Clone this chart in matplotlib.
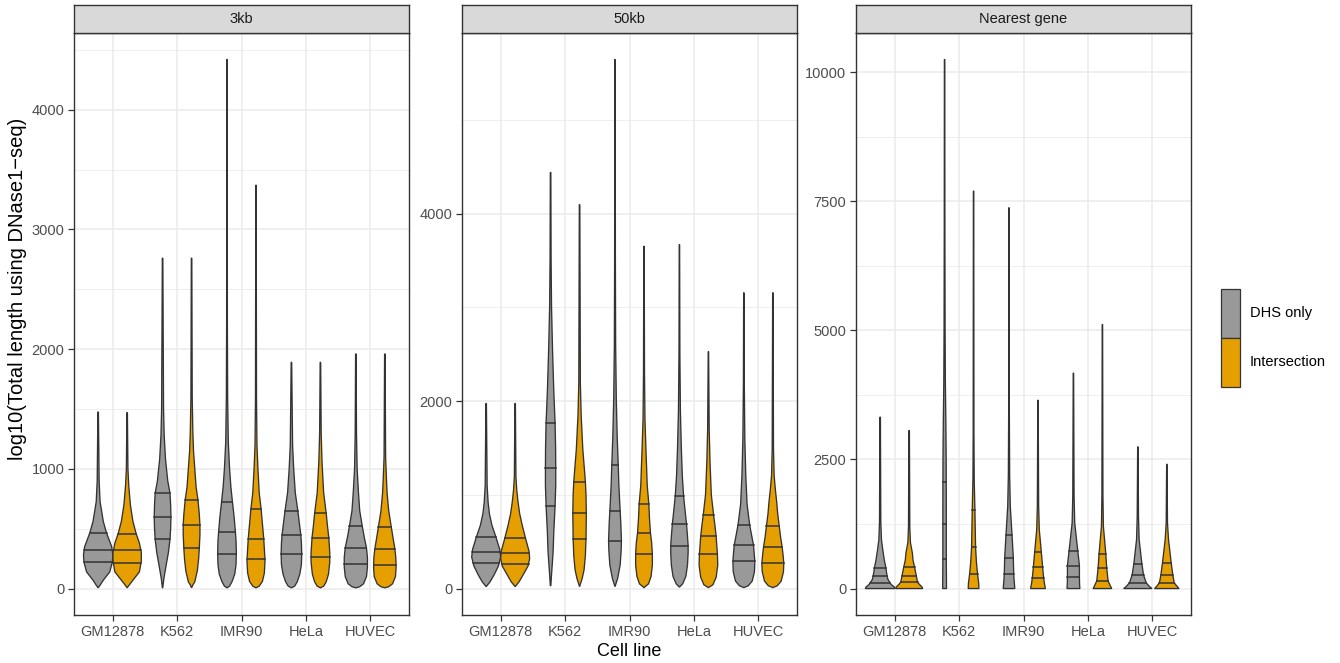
import matplotlib

matplotlib.use("Agg")
import matplotlib.pyplot as plt
import numpy as np
from matplotlib.patches import Rectangle

plt.rcParams["font.family"] = ["Liberation Sans", "DejaVu Sans"]

cell_lines = ["GM12878", "K562", "IMR90", "HeLa", "HUVEC"]
groups = ["DHS only", "Intersection"]
facet_names = ["3kb", "50kb", "Nearest gene"]

ticks_3kb = [0, 1000, 2000, 3000, 4000]
ticks_50kb = [0, 2000, 4000]
ticks_nearest = [0, 2500, 5000, 7500, 10000]

# quartiles (25%, 50%, 75%) per cell line
q_3kb_dhs = [(219, 325, 464), (411, 594, 797), (289, 475, 722), (289, 450, 647), (203, 339, 519)]
q_3kb_int = [(211, 319, 458), (336, 528, 736), (244, 417, 661), (264, 425, 628), (197, 333, 514)]
q_50kb_dhs = [(277, 390, 553), (886, 1287, 1766), (507, 826, 1319), (457, 688, 986), (294, 461, 681)]
q_50kb_int = [(266, 380, 539), (532, 805, 1142), (365, 596, 904), (365, 557, 787), (270, 440, 663)]
q_near_dhs = [(110, 238, 393), (575, 1245, 2067), (291, 601, 1033), (219, 446, 736), (110, 265, 484)]
q_near_int = [(123, 252, 410), (277, 800, 1512), (207, 413, 703), (149, 393, 678), (110, 258, 504)]

# density outline: (value, half width in category units)
prof_3kb_dhs = [
    [(6, 0), (28, 0.03), (70, 0.08), (139, 0.18), (220, 0.22), (280, 0.228), (350, 0.21), (464, 0.13),
     (560, 0.08), (725, 0.03), (900, 0.015), (1475, 0.004)],
    [(6, 0.003), (40, 0.01), (83, 0.02), (194, 0.055), (300, 0.09), (411, 0.115), (500, 0.125), (594, 0.13),
     (700, 0.125), (797, 0.115), (900, 0.08), (1083, 0.045), (1278, 0.025), (1500, 0.015), (2760, 0.004)],
    [(6, 0), (20, 0.04), (60, 0.08), (120, 0.12), (200, 0.14), (300, 0.145), (400, 0.14), (475, 0.13),
     (600, 0.11), (722, 0.085), (850, 0.06), (1000, 0.04), (1224, 0.02), (1600, 0.01), (2200, 0.006), (4420, 0.003)],
    [(6, 0), (20, 0.05), (56, 0.09), (120, 0.13), (200, 0.155), (290, 0.16), (380, 0.155), (450, 0.145),
     (560, 0.12), (647, 0.1), (800, 0.06), (1000, 0.035), (1200, 0.018), (1890, 0.004)],
    [(6, 0), (15, 0.06), (40, 0.12), (100, 0.165), (180, 0.18), (260, 0.18), (339, 0.165), (430, 0.13),
     (519, 0.1), (650, 0.06), (806, 0.04), (1000, 0.02), (1300, 0.01), (1960, 0.004)],
]
prof_3kb_int = [
    [(6, 0), (28, 0.03), (70, 0.09), (139, 0.19), (230, 0.22), (300, 0.22), (380, 0.19), (458, 0.14),
     (560, 0.09), (700, 0.05), (860, 0.025), (1000, 0.012), (1470, 0.004)],
    [(6, 0), (30, 0.02), (56, 0.05), (150, 0.09), (250, 0.11), (336, 0.12), (450, 0.13), (528, 0.13),
     (620, 0.12), (736, 0.1), (850, 0.07), (1000, 0.05), (1150, 0.03), (1306, 0.02), (1600, 0.01), (2760, 0.004)],
    [(6, 0), (20, 0.05), (60, 0.1), (130, 0.13), (230, 0.14), (330, 0.13), (417, 0.12), (540, 0.1),
     (661, 0.08), (800, 0.05), (1000, 0.03), (1200, 0.015), (1600, 0.008), (3370, 0.003)],
    [(6, 0), (20, 0.05), (56, 0.09), (120, 0.125), (220, 0.145), (300, 0.145), (425, 0.13), (520, 0.11),
     (628, 0.09), (800, 0.05), (1056, 0.025), (1300, 0.012), (1890, 0.004)],
    [(6, 0), (15, 0.06), (40, 0.12), (100, 0.165), (180, 0.175), (260, 0.17), (333, 0.155), (430, 0.125),
     (514, 0.1), (650, 0.06), (800, 0.035), (917, 0.025), (1100, 0.012), (1960, 0.004)],
]
prof_50kb_dhs = [
    [(20, 0), (71, 0.06), (142, 0.12), (240, 0.19), (337, 0.225), (420, 0.21), (553, 0.15), (674, 0.09),
     (800, 0.05), (922, 0.03), (1100, 0.015), (1975, 0.004)],
    [(30, 0.004), (100, 0.01), (248, 0.025), (400, 0.04), (606, 0.05), (886, 0.07), (1100, 0.08), (1287, 0.08),
     (1500, 0.078), (1766, 0.07), (2100, 0.05), (2553, 0.03), (3000, 0.015), (3500, 0.008), (4440, 0.004)],
    [(20, 0), (106, 0.04), (250, 0.08), (400, 0.095), (507, 0.1), (700, 0.09), (826, 0.08), (1100, 0.06),
     (1319, 0.05), (1600, 0.035), (2021, 0.02), (2600, 0.01), (3500, 0.006), (5645, 0.003)],
    [(15, 0), (50, 0.05), (130, 0.1), (250, 0.125), (380, 0.135), (457, 0.135), (560, 0.125), (688, 0.11),
     (850, 0.085), (986, 0.065), (1200, 0.045), (1489, 0.03), (1900, 0.015), (2500, 0.007), (3670, 0.003)],
    [(10, 0), (30, 0.07), (80, 0.13), (180, 0.165), (294, 0.17), (380, 0.16), (461, 0.15), (570, 0.12),
     (681, 0.09), (900, 0.05), (1206, 0.03), (1600, 0.015), (2200, 0.007), (3156, 0.003)],
]
prof_50kb_int = [
    [(20, 0), (71, 0.06), (142, 0.12), (240, 0.2), (320, 0.225), (400, 0.215), (539, 0.16), (674, 0.11),
     (800, 0.07), (922, 0.045), (1050, 0.025), (1200, 0.012), (1975, 0.004)],
    [(20, 0), (106, 0.04), (200, 0.07), (350, 0.09), (532, 0.1), (805, 0.105), (1000, 0.1), (1142, 0.09),
     (1489, 0.05), (1844, 0.025), (2200, 0.012), (4096, 0.004)],
    [(10, 0), (50, 0.07), (130, 0.11), (250, 0.13), (365, 0.13), (480, 0.12), (596, 0.1), (750, 0.085),
     (904, 0.075), (1100, 0.05), (1300, 0.04), (1489, 0.03), (1800, 0.015), (2300, 0.008), (3652, 0.003)],
    [(10, 0), (40, 0.07), (120, 0.12), (250, 0.145), (365, 0.14), (460, 0.13), (557, 0.12), (680, 0.1),
     (787, 0.08), (1000, 0.045), (1348, 0.025), (1700, 0.012), (2528, 0.003)],
    [(10, 0), (30, 0.07), (80, 0.13), (180, 0.165), (270, 0.17), (350, 0.16), (440, 0.145), (550, 0.12),
     (663, 0.1), (800, 0.075), (924, 0.06), (1050, 0.04), (1206, 0.02), (1500, 0.01), (3156, 0.003)],
]
prof_near_dhs = [
    [(0, 0.23), (30, 0.22), (80, 0.17), (110, 0.155), (180, 0.12), (238, 0.11), (300, 0.1), (393, 0.09),
     (550, 0.065), (756, 0.04), (950, 0.02), (1300, 0.01), (3321, 0.004)],
    [(0, 0.03), (500, 0.027), (1500, 0.027), (2500, 0.025), (3200, 0.02), (4000, 0.012), (5000, 0.008),
     (7000, 0.005), (10250, 0.003)],
    [(0, 0.09), (150, 0.08), (291, 0.073), (601, 0.067), (1033, 0.047), (1595, 0.02), (2200, 0.01),
     (3500, 0.005), (7378, 0.003)],
    [(0, 0.1), (100, 0.095), (219, 0.093), (446, 0.093), (736, 0.067), (1273, 0.02), (1800, 0.01),
     (4174, 0.003)],
    [(0, 0.22), (40, 0.18), (110, 0.13), (265, 0.088), (484, 0.062), (950, 0.02), (1400, 0.01), (2746, 0.003)],
]
prof_near_int = [
    [(0, 0.21), (30, 0.2), (80, 0.16), (123, 0.13), (252, 0.11), (410, 0.085), (550, 0.06), (690, 0.05),
     (890, 0.02), (1200, 0.01), (3062, 0.004)],
    [(0, 0.083), (100, 0.08), (277, 0.062), (500, 0.045), (800, 0.031), (1512, 0.021), (2112, 0.01),
     (3000, 0.006), (7700, 0.003)],
    [(0, 0.115), (100, 0.1), (207, 0.088), (413, 0.072), (703, 0.052), (1143, 0.02), (1600, 0.01), (3649, 0.003)],
    [(0, 0.145), (60, 0.12), (149, 0.088), (393, 0.067), (678, 0.052), (1207, 0.015), (1800, 0.008),
     (5116, 0.003)],
    [(0, 0.19), (40, 0.16), (110, 0.115), (258, 0.093), (504, 0.067), (950, 0.026), (1273, 0.01), (2409, 0.003)],
]

W, H = 1340, 663
fill_colors = ["#999999", "#E69F00"]
line_col = "#333333"
dodge = [-0.225, 0.225]


def px_axes(fig, x0, y0, x1, y1):
    return fig.add_axes([x0 / W, 1 - y1 / H, (x1 - x0) / W, (y1 - y0) / H])


def draw_violin(ax, xc, prof, quarts, color):
    ys = np.array([p[0] for p in prof], dtype=float)
    ws = np.array([p[1] for p in prof], dtype=float)
    xs = np.concatenate([xc - ws, (xc + ws)[::-1]])
    yy = np.concatenate([ys, ys[::-1]])
    ax.fill(xs, yy, facecolor=color, edgecolor=line_col, linewidth=0.95, zorder=3)
    for qv in quarts:
        w = np.interp(qv, ys, ws)
        ax.plot([xc - w, xc + w], [qv, qv], color=line_col, linewidth=1.1, zorder=4)


fig = plt.figure(figsize=(W / 100, H / 100), dpi=100)

panels = [
    (74, ticks_3kb, [prof_3kb_dhs, prof_3kb_int], [q_3kb_dhs, q_3kb_int]),
    (462, ticks_50kb, [prof_50kb_dhs, prof_50kb_int], [q_50kb_dhs, q_50kb_int]),
    (856, ticks_nearest, [prof_near_dhs, prof_near_int], [q_near_dhs, q_near_int]),
]

for k, (x0, ticks, profs, quarts) in enumerate(panels):
    ax = px_axes(fig, x0, 33, x0 + 335, 615)
    top = max(p[-1][0] for pr in profs for p in pr)
    ax.set_ylim(-0.05 * top, 1.05 * top)
    ax.set_xlim(0.4, len(cell_lines) + 0.6)

    step = ticks[1] - ticks[0]
    minor = np.arange(ticks[0] + step / 2, 1.05 * top, step)
    for m in minor:
        ax.axhline(m, color="#EBEBEB", linewidth=0.6, zorder=0)
    for t in ticks:
        ax.axhline(t, color="#EBEBEB", linewidth=1.1, zorder=0)
    for i in range(len(cell_lines)):
        ax.axvline(i + 1, color="#EBEBEB", linewidth=1.1, zorder=0)

    for g in range(2):
        for i in range(len(cell_lines)):
            draw_violin(ax, i + 1 + dodge[g], profs[g][i], quarts[g][i], fill_colors[g])

    ax.set_yticks(ticks)
    ax.set_yticklabels([str(t) for t in ticks])
    ax.set_xticks(range(1, len(cell_lines) + 1))
    ax.set_xticklabels(cell_lines)
    ax.tick_params(axis="both", length=4, width=0.9, color=line_col, labelcolor="#4D4D4D",
                   labelsize=10.5, pad=3)
    for s in ax.spines.values():
        s.set_color(line_col)
        s.set_linewidth(1.0)

    sax = px_axes(fig, x0, 5, x0 + 335, 33)
    sax.set_facecolor("#D9D9D9")
    sax.set_xticks([])
    sax.set_yticks([])
    for s in sax.spines.values():
        s.set_color(line_col)
        s.set_linewidth(1.0)
    sax.text(0.5, 0.5, facet_names[k], ha="center", va="center", fontsize=10.5,
             color="#1A1A1A", transform=sax.transAxes)

fig.text(18 / W, 1 - 289 / H, "log10(Total length using DNase1\u2212seq)", rotation=90,
         ha="center", va="center", fontsize=14.5, color="black")
fig.text(629 / W, 1 - 651 / H, "Cell line", ha="center", va="center", fontsize=13, color="black")

# legend
for g, name in enumerate(groups):
    y_top = 289 + g * 49
    fig.add_artist(Rectangle((1221 / W, 1 - (y_top + 49) / H), 19 / W, 49 / H,
                             transform=fig.transFigure, facecolor=fill_colors[g],
                             edgecolor=line_col, linewidth=0.9))
    fig.text(1250 / W, 1 - (y_top + 24.5) / H, name, ha="left", va="center", fontsize=10.5)

fig.savefig("out.png", dpi=100)
